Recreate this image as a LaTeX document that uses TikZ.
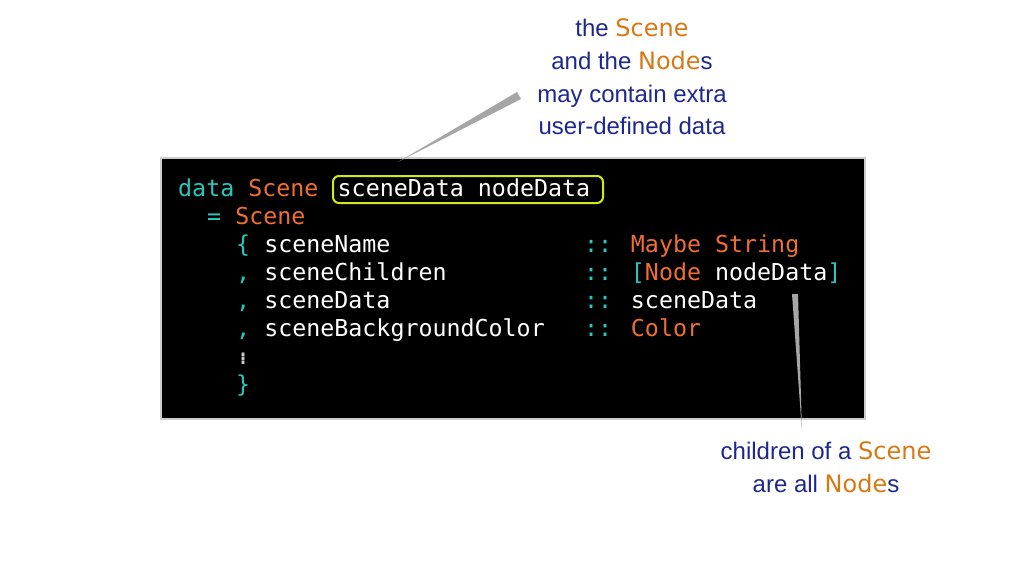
\documentclass[tikz,border=0pt]{standalone}
\usepackage{fontspec}
\setmainfont{Liberation Sans}
\newfontfamily\codefont{DejaVu Sans Mono}
\newfontfamily\hlfont{DejaVu Sans}
\definecolor{teal}{RGB}{40,200,190}
\definecolor{orng}{RGB}{240,110,50}
\definecolor{navy}{RGB}{30,40,140}
\definecolor{hl}{RGB}{215,120,20}
\definecolor{ylw}{RGB}{210,235,20}
\newcommand{\Tq}[1]{\textcolor{teal}{#1}}
\newcommand{\Oq}[1]{\textcolor{orng}{#1}}
\newcommand{\Hq}[1]{{\hlfont\textcolor{hl}{#1}}}
\begin{document}
\begin{tikzpicture}[x=1pt,y=-1pt,
  code/.style={anchor=base west,inner sep=0,text=white,font=\codefont\fontsize{23.3}{28}\selectfont},
  note/.style={align=center,text=navy,font=\fontsize{24}{32.7}\selectfont},
  wedge/.style={fill=black!35,draw=none}]
\useasboundingbox (0,0) rectangle (1024,576);
\node[draw=black!20,line width=2pt,fill=black,minimum width=704,minimum height=261,inner sep=0,anchor=north west] (box) at (160,157) {};
\def\cw{14.5}
\newcommand{\atq}[4]{\node[code] (#1) at (178+#2*\cw,196+#3*28) {#4};}
\atq{l1}{0}{0}{\Tq{data} \Oq{Scene}}
\atq{l1b}{11}{0}{sceneData nodeData}
\atq{l2}{2}{1}{\Tq{=} \Oq{Scene}}
\atq{l3}{4}{2}{\Tq{\{} sceneName}
\atq{l4}{4}{3}{\Tq{,} sceneChildren}
\atq{l5}{4}{4}{\Tq{,} sceneData}
\atq{l6}{4}{5}{\Tq{,} sceneBackgroundColor}
\atq{c3}{28}{2}{\Tq{::} \Oq{Maybe String}}
\atq{c4}{28}{3}{\Tq{:: [}\Oq{Node} nodeData\Tq{]}}
\atq{c5}{28}{4}{\Tq{::} sceneData}
\atq{c6}{28}{5}{\Tq{::} \Oq{Color}}
\atq{l7}{4}{6}{\textcolor{black!20}{\(\vdots\)}}
\atq{l8}{4}{7}{\Tq{\}}}
\draw[ylw,line width=2pt,rounded corners=6] (333,176) rectangle (603,203);
\node[note] (top) at (632,77) {the \Hq{Scene}\\and the \Hq{Node}s\\may contain extra\\user-defined data};
\node[note] (bot) at (826,467) {children of a \Hq{Scene}\\are all \Hq{Node}s};
\fill[wedge] (398,162) -- (517,92) -- (521,99) -- cycle;
\fill[wedge] (802,432) -- (792,294) -- (798,294) -- cycle;
\end{tikzpicture}
\end{document}
